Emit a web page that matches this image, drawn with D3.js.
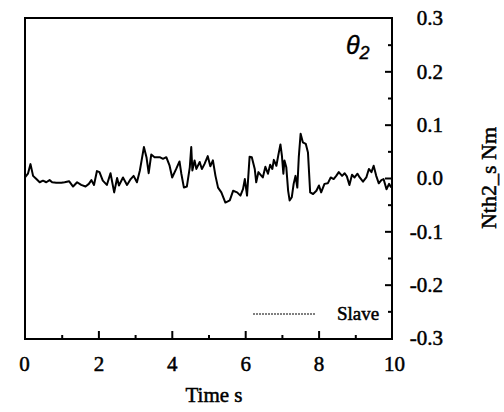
<!DOCTYPE html>
<html>
<head>
<meta charset="utf-8">
<script src="https://cdn.jsdelivr.net/npm/d3@7"></script>
<style>
  html, body { margin: 0; padding: 0; background: #fff; }
  svg { display: block; }
  .serif { font-family: "Liberation Serif", "Times New Roman", serif; fill: #000; stroke: #000; stroke-width: 0.5px; }
</style>
</head>
<body>
<svg id="chart" width="504" height="412"></svg>
<script>
// Joint 2 torque on the slave side, sampled over 10 s
const timeS = [0, 0.08, 0.15, 0.22, 0.31, 0.4, 0.49, 0.58, 0.67, 0.74, 0.85, 0.99, 1.08, 1.2, 1.31, 1.42, 1.53, 1.65, 1.74, 1.81, 1.88, 1.96, 2.03, 2.12, 2.23, 2.33, 2.43, 2.51, 2.56, 2.67, 2.78, 2.88, 2.96, 3.05, 3.13, 3.24, 3.31, 3.37, 3.44, 3.53, 3.67, 3.76, 3.85, 3.94, 4.01, 4.12, 4.21, 4.26, 4.33, 4.41, 4.49, 4.53, 4.56, 4.62, 4.67, 4.76, 4.82, 4.89, 4.98, 5.05, 5.12, 5.19, 5.26, 5.35, 5.46, 5.58, 5.67, 5.78, 5.87, 5.94, 5.99, 6.05, 6.12, 6.18, 6.26, 6.3, 6.36, 6.42, 6.48, 6.55, 6.62, 6.68, 6.74, 6.78, 6.85, 6.9, 6.96, 7.0, 7.04, 7.07, 7.12, 7.17, 7.21, 7.27, 7.32, 7.37, 7.42, 7.46, 7.51, 7.57, 7.65, 7.71, 7.77, 7.85, 7.94, 8.01, 8.07, 8.16, 8.25, 8.33, 8.41, 8.48, 8.55, 8.64, 8.71, 8.77, 8.84, 8.91, 8.98, 9.06, 9.12, 9.21, 9.3, 9.37, 9.44, 9.5, 9.57, 9.64, 9.71, 9.77, 9.85, 9.92, 9.98];
const slaveTorque = [0.001, 0.008, 0.026, 0.004, -0.002, -0.008, -0.005, -0.008, -0.004, -0.008, -0.009, -0.009, -0.008, -0.006, -0.016, -0.008, -0.013, -0.016, -0.011, -0.004, -0.013, 0.013, 0.011, -0.005, -0.013, 0.009, -0.027, 0.0, -0.014, 0.001, -0.013, -0.002, 0.004, -0.008, 0.014, 0.058, 0.039, 0.009, 0.044, 0.039, 0.039, 0.036, 0.039, 0.023, 0.001, 0.017, 0.031, 0.008, -0.018, -0.016, 0.02, 0.058, 0.014, 0.033, 0.017, 0.03, 0.017, 0.026, 0.041, 0.022, 0.033, 0.004, -0.018, -0.027, -0.046, -0.042, -0.024, -0.027, -0.033, -0.021, -0.002, -0.033, 0.04, 0.039, 0.017, -0.008, 0.011, 0.006, 0.001, 0.021, 0.008, 0.025, 0.017, 0.034, 0.023, 0.042, 0.063, 0.042, 0.008, 0.033, 0.02, -0.024, -0.042, -0.036, -0.011, 0.004, -0.018, 0.039, 0.083, 0.067, 0.064, 0.048, -0.027, -0.03, -0.024, -0.014, -0.027, -0.011, -0.01, 0.001, -0.002, 0.004, 0.011, 0.004, 0.009, 0.003, -0.013, 0.006, 0.001, 0.008, 0.001, -0.007, 0.001, 0.017, 0.011, 0.023, 0.004, -0.01, -0.004, -0.002, -0.021, -0.011, -0.018];

const xMajorTicks = [0, 2, 4, 6, 8, 10];
const xMinorTicks = [1, 3, 5, 7, 9];
const yMajorTicks = [-0.3, -0.2, -0.1, 0.0, 0.1, 0.2, 0.3];
const yMinorTicks = [-0.25, -0.15, -0.05, 0.05, 0.15, 0.25];
const seriesName = "Slave";

const svg = d3.select("#chart");
const plotLeft = 25, plotRight = 392, plotTop = 18, plotBottom = 339;

const x = d3.scaleLinear().domain([0, 10]).range([plotLeft, plotRight]);
const y = d3.scaleLinear().domain([-0.3, 0.3]).range([plotBottom - 1, plotTop]);

function cleanAxis(g) { g.select(".domain").remove(); }

// Inward tick marks along the bottom edge
svg.append("g").attr("transform", `translate(0,${plotBottom})`)
  .call(d3.axisTop(x).tickValues(xMajorTicks.filter(d => d > 0 && d < 10)).tickSize(8).tickFormat(""))
  .call(cleanAxis)
  .selectAll("line").attr("stroke", "#000").attr("stroke-width", 2);
svg.append("g").attr("transform", `translate(0,${plotBottom})`)
  .call(d3.axisTop(x).tickValues(xMinorTicks).tickSize(4).tickFormat(""))
  .call(cleanAxis)
  .selectAll("line").attr("stroke", "#000").attr("stroke-width", 2);

// Inward tick marks along the right edge
svg.append("g").attr("transform", `translate(${plotRight},0)`)
  .call(d3.axisLeft(y).tickValues(yMajorTicks.filter(d => Math.abs(d) < 0.29)).tickSize(7).tickFormat(""))
  .call(cleanAxis)
  .selectAll("line").attr("stroke", "#000").attr("stroke-width", 2);
svg.append("g").attr("transform", `translate(${plotRight},0)`)
  .call(d3.axisLeft(y).tickValues(yMinorTicks).tickSize(4).tickFormat(""))
  .call(cleanAxis)
  .selectAll("line").attr("stroke", "#000").attr("stroke-width", 2);

// Tick labels
const xLab = svg.append("g").attr("transform", `translate(0,${plotBottom})`)
  .call(d3.axisBottom(x).tickValues(xMajorTicks).tickSize(0).tickPadding(17).tickFormat(d => String(d)))
  .call(cleanAxis);
xLab.selectAll("text").attr("class", "serif").style("font-size", "21px").attr("fill", "#000");
xLab.selectAll("text").filter(d => d === 0).attr("dx", -1);
xLab.selectAll("text").filter(d => d === 10).attr("dx", 2);

const yLab = svg.append("g").attr("transform", `translate(${plotRight},0)`)
  .call(d3.axisRight(y).tickValues(yMajorTicks).tickSize(0).tickFormat(d => d.toFixed(1)))
  .call(cleanAxis);
yLab.selectAll("text").attr("class", "serif").style("font-size", "21px").attr("fill", "#000")
  .attr("x", 51).attr("text-anchor", "end");

// Plot frame
svg.append("rect")
  .attr("x", plotLeft).attr("y", plotTop)
  .attr("width", plotRight - plotLeft).attr("height", plotBottom - plotTop)
  .attr("fill", "none").attr("stroke", "#000").attr("stroke-width", 2);

// Torque trace
const line = d3.line().x((d, i) => x(timeS[i])).y(d => y(d));
svg.append("path")
  .datum(slaveTorque)
  .attr("d", line)
  .attr("fill", "none")
  .attr("stroke", "#000")
  .attr("stroke-width", 2)
  .attr("stroke-linejoin", "round");

// Panel tag
const tag = svg.append("text")
  .attr("x", 346).attr("y", 54)
  .style("font-family", "'Liberation Sans', Arial, sans-serif")
  .style("font-style", "italic")
  .style("font-size", "25px")
  .attr("fill", "#000").attr("stroke", "#000").attr("stroke-width", 0.4);
tag.append("tspan").text("θ");
tag.append("tspan").attr("dy", 5).style("font-size", "18px").text("2");

// Legend
svg.append("line")
  .attr("x1", 253).attr("x2", 315).attr("y1", 314).attr("y2", 314)
  .attr("stroke", "#000").attr("stroke-width", 1)
  .attr("stroke-dasharray", "2,1");
svg.append("text").attr("class", "serif")
  .attr("x", 337).attr("y", 320)
  .style("font-size", "19px")
  .text(seriesName);

// Axis titles
svg.append("text").attr("class", "serif")
  .attr("x", 214).attr("y", 402)
  .attr("text-anchor", "middle")
  .style("font-size", "21px")
  .text("Time s");
svg.append("text").attr("class", "serif")
  .attr("transform", "translate(496,178) rotate(-90)")
  .attr("text-anchor", "middle")
  .style("font-size", "22px")
  .text("Nth2_s Nm");
</script>
</body>
</html>
